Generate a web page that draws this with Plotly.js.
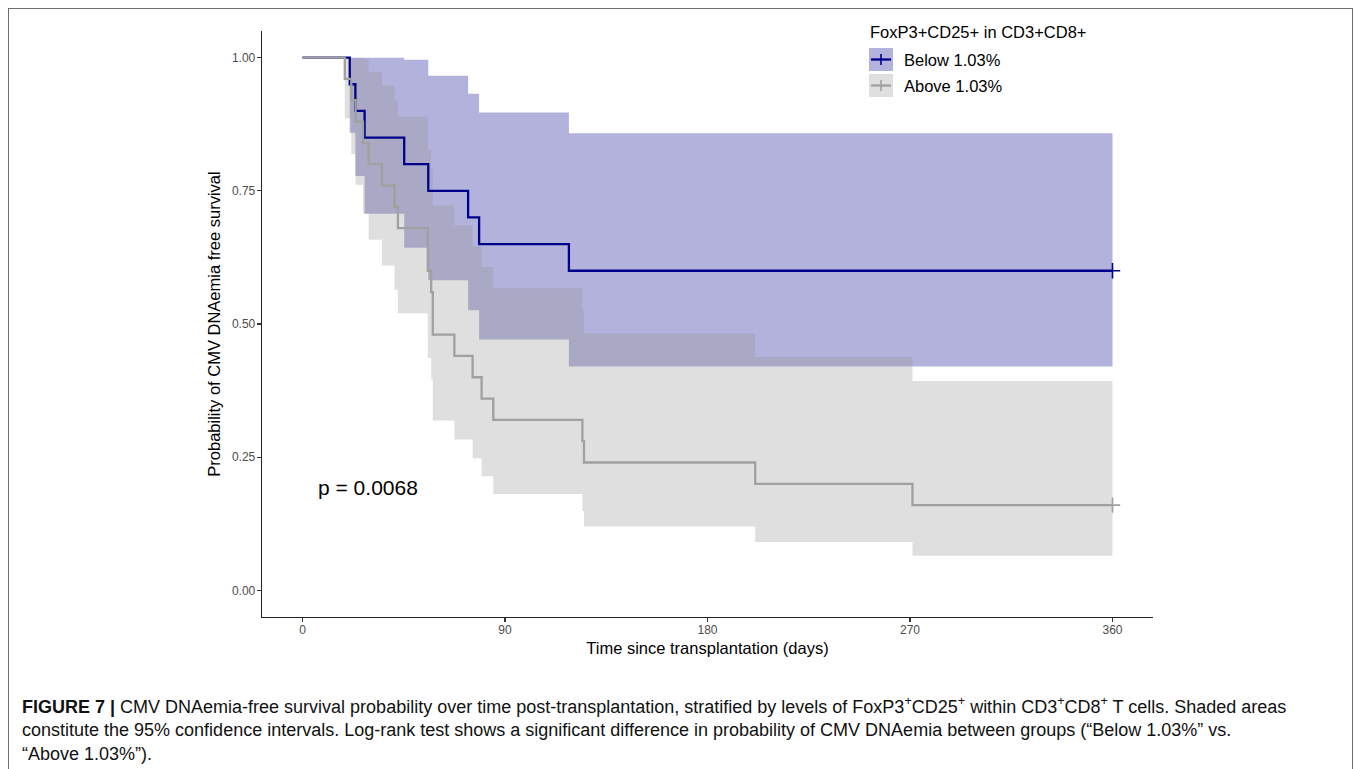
<!DOCTYPE html>
<html>
<head>
<meta charset="utf-8">
<script src="https://cdn.plot.ly/plotly-3.0.1.min.js"></script>
<style>
  html, body { margin: 0; padding: 0; background: #ffffff; }
  #chart { width: 1355px; height: 769px; position: relative; }
  #frame { position: absolute; left: 8px; top: 8px; width: 1345px; height: 800px;
           border-left: 1.5px solid #6e6e6e; border-top: 1.5px solid #6e6e6e; border-right: 1.5px solid #6e6e6e;
           pointer-events: none; box-sizing: border-box; }
</style>
</head>
<body>
<div id="chart"></div>
<div id="frame"></div>
<script>
// ---- Data ----
// Group "Below 1.03%"
const belowTimes = [0, 21, 23.5, 27.6, 45.2, 55.9, 73.6, 78.5, 118.4, 360];
const belowSurv  = [1, 0.95, 0.90, 0.85, 0.80, 0.75, 0.70, 0.65, 0.60, 0.60];
const belowLower = [1, 0.859, 0.778, 0.707, 0.643, 0.582, 0.526, 0.471, 0.420, 0.420];
const belowUpper = [1, 1, 1, 1, 0.996, 0.966, 0.932, 0.897, 0.858, 0.858];

// Group "Above 1.03%"
const aboveTimes = [0, 18.8, 21.7, 23.6, 26.9, 29.4, 35.3, 40.9, 42.4, 55.7, 57.2, 57.9, 67.5, 75.6, 79.6, 84.8, 124.4, 125.1, 201.2, 271.1, 360];
const aboveSurv  = [1, 0.96, 0.92, 0.88, 0.84, 0.80, 0.76, 0.72, 0.68, 0.60, 0.56, 0.48, 0.44, 0.40, 0.36, 0.32, 0.28, 0.24, 0.20, 0.16, 0.16];
const aboveLower = [1, 0.886, 0.819, 0.761, 0.708, 0.658, 0.610, 0.564, 0.520, 0.436, 0.396, 0.319, 0.283, 0.248, 0.214, 0.181, 0.149, 0.120, 0.091, 0.065, 0.065];
const aboveUpper = [1, 1, 1, 1, 0.997, 0.973, 0.947, 0.919, 0.889, 0.826, 0.792, 0.722, 0.685, 0.646, 0.607, 0.567, 0.525, 0.482, 0.438, 0.393, 0.393];

// Censor marks (end of follow-up)
const censorTimes = [360];
const belowCensor = [0.60];
const aboveCensor = [0.16];

const groupNames = ["Below 1.03%", "Above 1.03%"];
const legendTitle = "FoxP3+CD25+ in CD3+CD8+";
const pValueText = "p = 0.0068";
const xTicks = [0, 90, 180, 270, 360];
const yTicks = [0, 0.25, 0.5, 0.75, 1];
const yTickText = ["0.00", "0.25", "0.50", "0.75", "1.00"];

// ---- Styling ----
const blueLine = "#00008B";
const blueFill = "rgba(0,0,139,0.30)";
const grayLine = "#A0A0A0";
const grayFill = "rgba(150,150,150,0.30)";
const FONT = "Liberation Sans, Arial, Helvetica, sans-serif";

const W = 1355, H = 769;
const M = {l: 262, r: 202, t: 31, b: 152};
const PW = W - M.l - M.r, PH = H - M.t - M.b;
const px = x => (x - M.l) / PW;
const py = y => (H - M.b - y) / PH;

const traces = [
  {x: belowTimes, y: belowLower, mode: "lines", line: {width: 0, shape: "hv"}, showlegend: false, hoverinfo: "skip"},
  {x: belowTimes, y: belowUpper, mode: "lines", line: {width: 0, shape: "hv"}, fill: "tonexty", fillcolor: blueFill, showlegend: false, hoverinfo: "skip"},
  {x: aboveTimes, y: aboveLower, mode: "lines", line: {width: 0, shape: "hv"}, showlegend: false, hoverinfo: "skip"},
  {x: aboveTimes, y: aboveUpper, mode: "lines", line: {width: 0, shape: "hv"}, fill: "tonexty", fillcolor: grayFill, showlegend: false, hoverinfo: "skip"},
  {x: belowTimes, y: belowSurv, mode: "lines", name: groupNames[0], line: {color: blueLine, width: 2.3, shape: "hv"}, showlegend: false},
  {x: aboveTimes, y: aboveSurv, mode: "lines", name: groupNames[1], line: {color: grayLine, width: 2.3, shape: "hv"}, showlegend: false},
  {x: censorTimes, y: belowCensor, mode: "markers", marker: {symbol: "cross-thin", size: 11, line: {color: blueLine, width: 1.6}}, showlegend: false, hoverinfo: "skip"},
  {x: censorTimes, y: aboveCensor, mode: "markers", marker: {symbol: "cross-thin", size: 11, line: {color: grayLine, width: 1.6}}, showlegend: false, hoverinfo: "skip"}
];

// Manual legend (key boxes with line + cross)
const shapes = [];
const legendRows = [
  {yTop: 48, yBot: 71, fill: blueFill, line: blueLine},
  {yTop: 74, yBot: 97, fill: grayFill, line: grayLine}
];
legendRows.forEach(r => {
  const cy = (r.yTop + r.yBot) / 2;
  shapes.push({type: "rect", xref: "paper", yref: "paper", x0: px(869), x1: px(893), y0: py(r.yBot), y1: py(r.yTop), fillcolor: r.fill, line: {width: 0}});
  shapes.push({type: "line", xref: "paper", yref: "paper", x0: px(871), x1: px(891), y0: py(cy), y1: py(cy), line: {color: r.line, width: 2.3}});
  shapes.push({type: "line", xref: "paper", yref: "paper", x0: px(881), x1: px(881), y0: py(cy - 5.5), y1: py(cy + 5.5), line: {color: r.line, width: 1.6}});
});

const CAP = 18;
const annotations = [
  {xref: "paper", yref: "paper", x: px(868), y: py(32), xanchor: "left", yanchor: "middle", showarrow: false,
   text: legendTitle, font: {family: FONT, size: 16.5, color: "#000"}},
  {xref: "paper", yref: "paper", x: px(902), y: py(59.5), xanchor: "left", yanchor: "middle", showarrow: false,
   text: groupNames[0], font: {family: FONT, size: 16.5, color: "#000"}},
  {xref: "paper", yref: "paper", x: px(902), y: py(85.5), xanchor: "left", yanchor: "middle", showarrow: false,
   text: groupNames[1], font: {family: FONT, size: 16.5, color: "#000"}},
  {xref: "x", yref: "y", x: 6, y: 0.194, xanchor: "left", yanchor: "middle", showarrow: false,
   text: pValueText, font: {family: FONT, size: 21, color: "#000"}},
  // caption
  {xref: "paper", yref: "paper", x: px(20), y: py(705), xanchor: "left", yanchor: "middle", showarrow: false, align: "left",
   text: "<b>FIGURE 7 |</b> CMV DNAemia-free survival probability over time post-transplantation, stratified by levels of FoxP3<sup>+</sup>CD25<sup>+</sup> within CD3<sup>+</sup>CD8<sup>+</sup> T cells. Shaded areas",
   font: {family: FONT, size: CAP, color: "#111"}},
  {xref: "paper", yref: "paper", x: px(20), y: py(730), xanchor: "left", yanchor: "middle", showarrow: false, align: "left",
   text: "constitute the 95% confidence intervals. Log-rank test shows a significant difference in probability of CMV DNAemia between groups (\u201cBelow 1.03%\u201d vs.",
   font: {family: FONT, size: CAP, color: "#111"}},
  {xref: "paper", yref: "paper", x: px(20), y: py(754), xanchor: "left", yanchor: "middle", showarrow: false, align: "left",
   text: "\u201cAbove 1.03%\u201d).",
   font: {family: FONT, size: CAP, color: "#111"}}
];

const layout = {
  width: W, height: H,
  margin: M,
  paper_bgcolor: "#ffffff", plot_bgcolor: "#ffffff",
  font: {family: FONT},
  showlegend: false,
  xaxis: {
    range: [-18, 378], tickvals: xTicks, ticktext: xTicks.map(String),
    showgrid: false, zeroline: false, showline: true, linecolor: "#222", linewidth: 1.3,
    ticks: "outside", ticklen: 4, tickwidth: 1.1, tickcolor: "#333",
    ticklabelstandoff: -3,
    tickfont: {family: FONT, size: 12, color: "#4d4d4d"},
    title: {text: "Time since transplantation (days)", font: {family: FONT, size: 16.5, color: "#000"}, standoff: 6},
    automargin: false, fixedrange: true
  },
  yaxis: {
    range: [-0.05, 1.05], tickvals: yTicks, ticktext: yTickText,
    showgrid: false, zeroline: false, showline: true, linecolor: "#222", linewidth: 1.3,
    ticks: "outside", ticklen: 4, tickwidth: 1.1, tickcolor: "#333",
    ticklabelstandoff: -1,
    tickfont: {family: FONT, size: 12, color: "#4d4d4d"},
    title: {text: "Probability of CMV DNAemia free survival", font: {family: FONT, size: 16.5, color: "#000"}, standoff: 7},
    automargin: false, fixedrange: true
  },
  shapes: shapes,
  annotations: annotations
};

Plotly.newPlot("chart", traces, layout, {displayModeBar: false, staticPlot: true});
</script>
</body>
</html>
